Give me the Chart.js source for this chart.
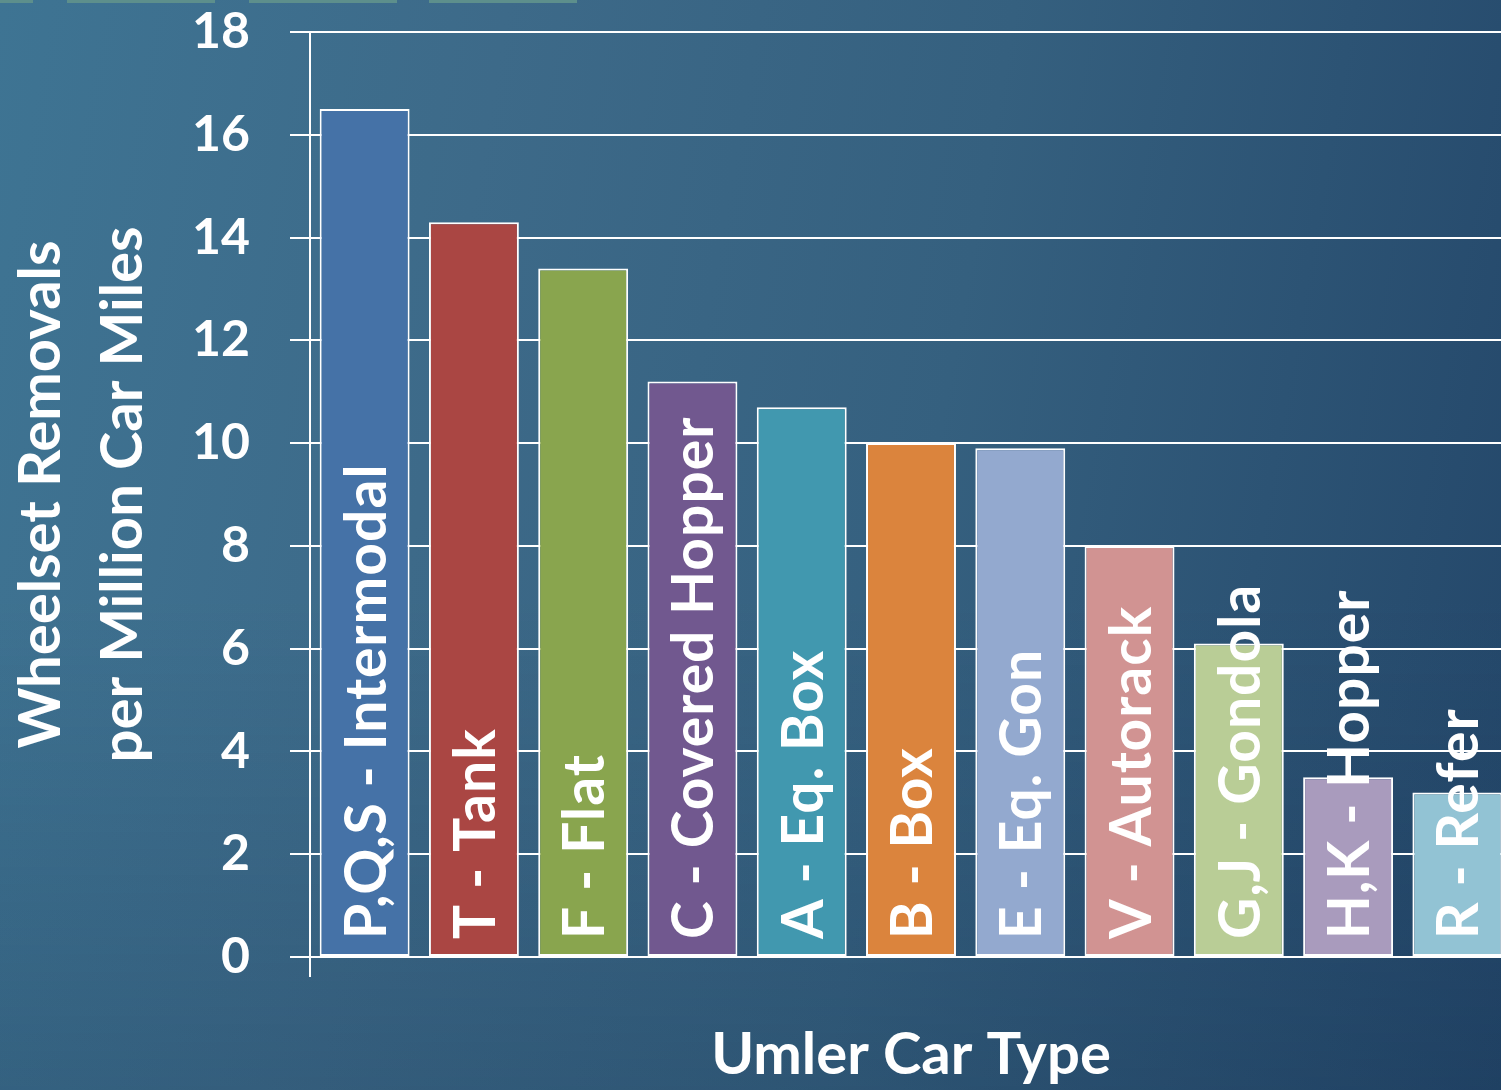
<!DOCTYPE html>
<html>
<head>
<meta charset="utf-8">
<title>Wheelset Removals by Umler Car Type</title>
<script src="https://cdn.jsdelivr.net/npm/chart.js@4.4.1/dist/chart.umd.min.js"></script>
<style>
  html, body {
    margin: 0;
    padding: 0;
    width: 1501px;
    height: 1090px;
    overflow: hidden;
  }
  body {
    background:
      linear-gradient(to bottom, rgba(0,0,0,0) 55%, rgba(18,45,75,0.22) 100%),
      linear-gradient(100deg, #3e7493 0%, #3d6a89 30%, #35607f 60%, #234669 100%);
    font-family: Lato, "Open Sans", sans-serif;
  }
  .strip {
    position: absolute;
    top: 0;
    height: 3px;
    background: #5d8f8c;
  }
  #wrap {
    position: absolute;
    left: 0;
    top: 0;
  }
</style>
</head>
<body>
<div class="strip" style="left:0;width:33px"></div>
<div class="strip" style="left:67px;width:148px"></div>
<div class="strip" style="left:249px;width:148px"></div>
<div class="strip" style="left:429px;width:148px"></div>
<div id="wrap"><canvas id="chart" width="1512" height="1090"></canvas></div>

<script>
// --------------- Data ---------------
const carTypes = [
  'P,Q,S - Intermodal',
  'T - Tank',
  'F - Flat',
  'C - Covered Hopper',
  'A - Eq. Box',
  'B - Box',
  'E - Eq. Gon',
  'V - Autorack',
  'G,J - Gondola',
  'H,K - Hopper',
  'R - Refer',
];
const removalsPerMillionMiles = [16.5, 14.3, 13.4, 11.2, 10.7, 10.0, 9.9, 8.0, 6.1, 3.5, 3.2];

const yTitleLines = ['Wheelset Removals', 'per Million Car Miles'];
const xTitle      = 'Umler Car Type';

// --------------- Style ---------------
const barColors = [
  '#4572a7', '#aa4643', '#89a54e', '#71588f', '#4198af', '#db843d',
  '#93a9cf', '#d19392', '#b9cd96', '#a99bbd', '#92c3d4',
];
const WHITE = '#ffffff';
const FONT  = 'Lato, "Open Sans", sans-serif';

// Category names are written upward inside each bar, starting near its base
const barLabels = {
  id: 'barLabels',
  afterDatasetsDraw(chart) {
    const { ctx } = chart;
    const meta = chart.getDatasetMeta(0);
    ctx.save();
    ctx.fillStyle     = WHITE;
    ctx.font          = `bold 57px ${FONT}`;
    ctx.letterSpacing = '1px';
    ctx.textAlign     = 'left';
    ctx.textBaseline  = 'alphabetic';
    meta.data.forEach((bar, i) => {
      ctx.save();
      ctx.translate(bar.x + 21, bar.base - 17);
      ctx.rotate(-Math.PI / 2);
      ctx.fillText(chart.data.labels[i], 0, 0);
      ctx.restore();
    });
    ctx.restore();
  },
};

new Chart(document.getElementById('chart').getContext('2d'), {
  type: 'bar',
  data: {
    labels: carTypes,
    datasets: [{
      data:               removalsPerMillionMiles,
      backgroundColor:    barColors,
      borderColor:        WHITE,
      borderWidth:        2,
      borderSkipped:      false,
      barPercentage:      0.823,
      categoryPercentage: 1,
    }],
  },
  options: {
    responsive: false,
    animation:  false,
    devicePixelRatio: 1,
    layout: { padding: { top: 32, left: 0, right: 0, bottom: 0 } },
    plugins: {
      legend:  { display: false },
      tooltip: { enabled: false },
    },
    scales: {
      x: {
        grid: {
          display:         true,
          offset:          true,
          drawOnChartArea: false,
          drawTicks:       true,
          tickLength:      20,
          lineWidth:       2,
          color: ctx => (ctx.index === 0 ? WHITE : 'rgba(0,0,0,0)'),
        },
        border: { display: true, color: WHITE, width: 2 },
        ticks:  { display: false },
        title: {
          display: true,
          text:    xTitle,
          color:   WHITE,
          font:    { family: FONT, size: 58, weight: 'bold', lineHeight: 1.2 },
          padding: { top: 0, bottom: 0 },
        },
        afterFit: scale => {
          scale.height = 133;
          scale.paddingLeft = 0;
          scale.paddingRight = 0;
        },
      },
      y: {
        min: 0,
        max: 18,
        grid: {
          color:      WHITE,
          lineWidth:  2,
          drawTicks:  true,
          tickLength: 20,
        },
        border: { display: true, color: WHITE, width: 2 },
        ticks: {
          stepSize: 2,
          color:    WHITE,
          padding:  40,
          font:     { family: FONT, size: 50, weight: 'bold' },
        },
        title: {
          display: true,
          text:    yTitleLines,
          color:   WHITE,
          font:    { family: FONT, size: 58, weight: 'bold', lineHeight: 1.42 },
          padding: { top: 0, bottom: 0 },
        },
        afterFit: scale => {
          scale.width = 310;
          scale.paddingTop = 0;
          scale.paddingBottom = 0;
        },
      },
    },
  },
  plugins: [barLabels],
});
</script>
</body>
</html>
